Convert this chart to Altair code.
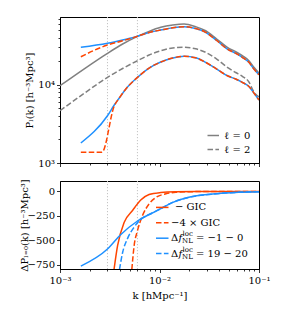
import altair as alt
import pandas as pd

# ---------------- data ----------------
# top panel: multipoles P_l(k)
k_fid = [0.001, 0.00174, 0.0030, 0.00426, 0.00601, 0.00786, 0.0103, 0.0136, 0.0177,
         0.0231, 0.0291, 0.0376, 0.0481, 0.0583, 0.0680, 0.0792, 0.0889, 0.1]
P0_fid = [9710, 15870, 25180, 33100, 41500, 48080, 54100, 57880, 59600,
          55030, 48940, 38340, 30040, 26400, 23460, 20260, 16680, 14110]
P2_fid = [4656, 7719, 12430, 16100, 20260, 23950, 27190, 29430, 30040,
          28740, 25930, 21290, 16680, 14320, 12800, 10830, 8070, 6966]

k_l0 = [0.00162, 0.0030, 0.00426, 0.00601, 0.00786, 0.0103, 0.0136, 0.0177,
        0.0231, 0.0291, 0.0376, 0.0481, 0.0583, 0.0680, 0.0792, 0.0889, 0.1]
P0_blue = [30040, 33790, 37230, 41500, 46420, 49950, 53460, 55030,
           52210, 46710, 36690, 28580, 25180, 22380, 19320, 15870, 13420]
P0_orange = [22780, 32140, 36370, 41500, 46420, 49950, 53460, 55030,
             52210, 46710, 36690, 28580, 25180, 22380, 19320, 15870, 13420]

k_l2_blue = [0.00162, 0.0030, 0.00351, 0.00394, 0.00459, 0.00601, 0.00786, 0.0103,
             0.0136, 0.0177, 0.0231, 0.0291, 0.0376, 0.0481, 0.0583, 0.0680, 0.0792,
             0.0889, 0.1]
P2_blue = [1800, 4018, 5503, 6762, 8812, 12430, 16340, 19500, 21930, 23050, 22060,
           19320, 15870, 13030, 11820, 10730, 9484, 7834, 6374]
k_l2_orange = [0.00162, 0.00264, 0.00351, 0.00394, 0.00459, 0.00601, 0.00786, 0.0103,
               0.0136, 0.0177, 0.0231, 0.0291, 0.0376, 0.0481, 0.0583, 0.0680, 0.0792,
               0.0889, 0.1]
P2_orange = [1370, 1370, 5346, 6762, 8812, 12430, 16340, 19500, 21930, 23050, 22060,
             19320, 15870, 13030, 11820, 10730, 9484, 7834, 6374]

# bottom panel: Delta P_{l=0}(k)
k_gic = [0.00349, 0.00379, 0.00442, 0.00536, 0.00648, 0.00786, 0.0103, 0.0146, 0.0231, 0.1]
d_gic = [-800, -555, -315, -195, -88, -32, -11, -3, -1, 0]
k_gic4 = [0.00527, 0.00556, 0.00601, 0.00675, 0.00786, 0.00918, 0.0116, 0.0146, 0.0206, 0.1]
d_gic4 = [-800, -555, -401, -247, -127, -62, -24, -8, -2, 0]
k_f0 = [0.00162, 0.0030, 0.00409, 0.00606, 0.00963, 0.0136, 0.0197, 0.0343, 0.0624, 0.1]
d_f0 = [-765, -590, -440, -300, -192, -112, -60, -27, -8, -2]
k_f20 = [0.00396, 0.00426, 0.00478, 0.00556, 0.00675, 0.00818, 0.00963, 0.0136, 0.0197,
         0.0343, 0.0624, 0.1]
d_f20 = [-800, -625, -480, -365, -272, -228, -192, -112, -60, -27, -8, -2]

k_vlines = [0.003, 0.006]

# axis ticks / labels
x_ticks = [0.001, 0.002, 0.003, 0.004, 0.005, 0.006, 0.007, 0.008, 0.009,
           0.01, 0.02, 0.03, 0.04, 0.05, 0.06, 0.07, 0.08, 0.09, 0.1]
ytop_ticks = [1000, 2000, 3000, 4000, 5000, 6000, 7000, 8000, 9000,
              10000, 20000, 30000, 40000, 50000, 60000, 70000]
ybot_ticks = [-750, -500, -250, 0]

# ---------------- styles ----------------
FONT = "DejaVu Serif"
GRAY = "#808080"
BLUE = "#1E90FF"
ORANGE = "#FF4500"
DOT = "#c4c4c4"
DASH = [5.5, 2.4]
LW = 1.5

xscale = alt.Scale(type="log", domain=[1e-3, 1e-1], nice=False)
ytop_scale = alt.Scale(type="log", domain=[1000, 73300], nice=False)
ybot_scale = alt.Scale(domain=[-794, 107], nice=False, zero=False)

x_tick_size = {"condition": {"test": "datum.value == 0.001 || datum.value == 0.01 || datum.value == 0.1",
                             "value": 3.5}, "value": 2}
y_tick_size = {"condition": {"test": "datum.value == 1000 || datum.value == 10000",
                             "value": 3.5}, "value": 2}

common = dict(grid=False, domainColor="black", tickColor="black", tickWidth=0.8,
              labelFont=FONT, labelFontSize=10, labelColor="black",
              titleFont=FONT, titleFontSize=10, titleFontWeight="normal", titleColor="black")

x_axis_top = alt.Axis(values=x_ticks, labels=False, title=None, tickSize=x_tick_size, **common)
x_axis_bot = alt.Axis(values=x_ticks, tickSize=x_tick_size, labelFlush=False, labelOverlap=False,
                      labelExpr="datum.value == 0.001 ? '10⁻³' : datum.value == 0.01 ? '10⁻²' : datum.value == 0.1 ? '10⁻¹' : ''",
                      labelPadding=3, title="k [hMpc⁻¹]", titlePadding=5, **common)
y_axis_top = alt.Axis(values=ytop_ticks, tickSize=y_tick_size, labelOverlap=False,
                      labelExpr="datum.value == 1000 ? '10³' : datum.value == 10000 ? '10⁴' : ''",
                      labelPadding=2, title="Pₗ(k) [h⁻³Mpc³]", titleX=-26, **common)
y_axis_bot = alt.Axis(values=ybot_ticks, tickSize=3.5, labelPadding=2,
                      title="ΔPₗ₌₀(k) [h⁻³Mpc³]", titleX=-31, **common)


def curve(k, v, color, xaxis, yscale, yaxis, dash=None):
    df = pd.DataFrame({"k": k, "v": v})
    props = dict(color=color, strokeWidth=LW, clip=True, interpolate="monotone")
    if dash:
        props["strokeDash"] = dash
    return alt.Chart(df).mark_line(**props).encode(
        x=alt.X("k:Q", scale=xscale, axis=xaxis),
        y=alt.Y("v:Q", scale=yscale, axis=yaxis),
    )


def vlines(xaxis):
    return alt.Chart(pd.DataFrame({"k": k_vlines})).mark_rule(
        color=DOT, strokeWidth=1, strokeDash=[1.2, 1.8]
    ).encode(x=alt.X("k:Q", scale=xscale, axis=xaxis))


one = pd.DataFrame({"a": [0]})


def leg_line(x1, x2, y, color, dash=None):
    props = dict(color=color, strokeWidth=LW)
    if dash:
        props["strokeDash"] = dash
    return alt.Chart(one).mark_rule(**props).encode(
        x=alt.value(x1), x2=alt.value(x2), y=alt.value(y))


def leg_text(x, y, txt, size=10, style="normal"):
    return alt.Chart(one).mark_text(font=FONT, fontSize=size, fontStyle=style, align="left",
                                    baseline="middle", color="black").encode(
        x=alt.value(x), y=alt.value(y), text=alt.value(txt))


# ---------------- top panel ----------------
top_layers = [
    vlines(x_axis_top),
    curve(k_fid, P0_fid, GRAY, x_axis_top, ytop_scale, y_axis_top),
    curve(k_fid, P2_fid, GRAY, x_axis_top, ytop_scale, y_axis_top, DASH),
    curve(k_l0, P0_blue, BLUE, x_axis_top, ytop_scale, y_axis_top),
    curve(k_l2_blue, P2_blue, BLUE, x_axis_top, ytop_scale, y_axis_top),
    curve(k_l0, P0_orange, ORANGE, x_axis_top, ytop_scale, y_axis_top, DASH),
    curve(k_l2_orange, P2_orange, ORANGE, x_axis_top, ytop_scale, y_axis_top, DASH),
    leg_line(147.5, 159, 118.5, GRAY),
    leg_line(147.5, 159, 132.5, GRAY, DASH),
    leg_text(164.5, 118.5, "ℓ = 0"),
    leg_text(164.5, 132.5, "ℓ = 2"),
]
top = alt.layer(*top_layers).properties(width=199, height=146)

# ---------------- bottom panel ----------------
rows = [26.4, 41.8, 57.2, 72.6]
bot_layers = [
    vlines(x_axis_bot),
    curve(k_gic, d_gic, ORANGE, x_axis_bot, ybot_scale, y_axis_bot),
    curve(k_gic4, d_gic4, ORANGE, x_axis_bot, ybot_scale, y_axis_bot, DASH),
    curve(k_f0, d_f0, BLUE, x_axis_bot, ybot_scale, y_axis_bot),
    curve(k_f20, d_f20, BLUE, x_axis_bot, ybot_scale, y_axis_bot, DASH),
    leg_line(96, 108.5, rows[0], ORANGE),
    leg_line(96, 108.5, rows[1], ORANGE, DASH),
    leg_line(96, 108.5, rows[2], BLUE),
    leg_line(96, 108.5, rows[3], BLUE, DASH),
    leg_text(115, rows[0], "− GIC"),
    leg_text(111, rows[1], "−4 × GIC"),
]
for r, rhs in ((rows[2], "= −1 − 0"), (rows[3], "= 19 − 20")):
    bot_layers += [
        leg_text(111, r, "Δ"),
        leg_text(118.5, r, "f", style="italic"),
        leg_text(122.5, r - 3.8, "loc", size=7),
        leg_text(122.0, r + 3.2, "NL", size=7),
        leg_text(136, r, rhs),
    ]
bottom = alt.layer(*bot_layers).properties(width=199, height=88)

chart = alt.vconcat(top, bottom, spacing=18, bounds="flush").properties(
    padding={"left": 10, "top": 5, "right": 5, "bottom": 5}
).configure_view(stroke="black", strokeWidth=1)

chart.save("out.html", embed_options={"renderer": "svg", "actions": False})
